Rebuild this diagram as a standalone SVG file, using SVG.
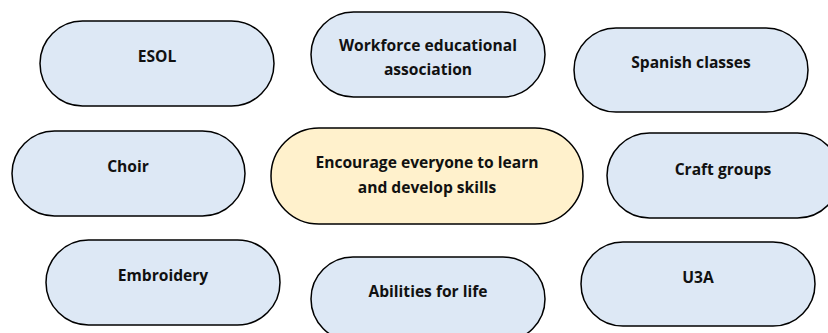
<svg xmlns="http://www.w3.org/2000/svg" width="828" height="333" viewBox="0 0 828 333">
  <style>
    .pill { fill: #dde8f5; stroke: #000000; stroke-width: 1.5; }
    .core { fill: #fff1cc; stroke: #000000; stroke-width: 1.5; }
    .label { font-family: "Open Sans", "Liberation Sans", sans-serif; font-weight: bold; font-size: 15.6px; fill: #111111; text-anchor: middle; }
  </style>
  <rect width="828" height="333" fill="#ffffff"/>

  <!-- no connectors between the nodes -->
  <g id="connectors"/>

  <g id="node-esol">
    <rect class="pill" x="40" y="21" width="234" height="85" rx="42.5"/>
    <text class="label" x="157" y="62">ESOL</text>
  </g>

  <g id="node-workforce">
    <rect class="pill" x="311" y="12" width="234" height="85" rx="42.5"/>
    <text class="label" x="428" y="50.5">Workforce educational</text>
    <text class="label" x="428" y="75">association</text>
  </g>

  <g id="node-spanish">
    <rect class="pill" x="574" y="28" width="234" height="84" rx="42"/>
    <text class="label" x="691" y="68">Spanish classes</text>
  </g>

  <g id="node-choir">
    <rect class="pill" x="12" y="131" width="233" height="85" rx="42.5"/>
    <text class="label" x="128" y="172">Choir</text>
  </g>

  <g id="node-centre">
    <rect class="core" x="271" y="128" width="312" height="96" rx="48"/>
    <text class="label" x="427" y="168">Encourage everyone to learn</text>
    <text class="label" x="427" y="193">and develop skills</text>
  </g>

  <g id="node-craft">
    <rect class="pill" x="607" y="133" width="233" height="85" rx="42.5"/>
    <text class="label" x="723" y="175">Craft groups</text>
  </g>

  <g id="node-embroidery">
    <rect class="pill" x="46" y="240" width="234" height="85" rx="42.5"/>
    <text class="label" x="163" y="281">Embroidery</text>
  </g>

  <g id="node-abilities">
    <rect class="pill" x="311" y="257" width="234" height="84" rx="42"/>
    <text class="label" x="428" y="297">Abilities for life</text>
  </g>

  <g id="node-u3a">
    <rect class="pill" x="581" y="242" width="234" height="84" rx="42"/>
    <text class="label" x="698" y="283">U3A</text>
  </g>
</svg>
